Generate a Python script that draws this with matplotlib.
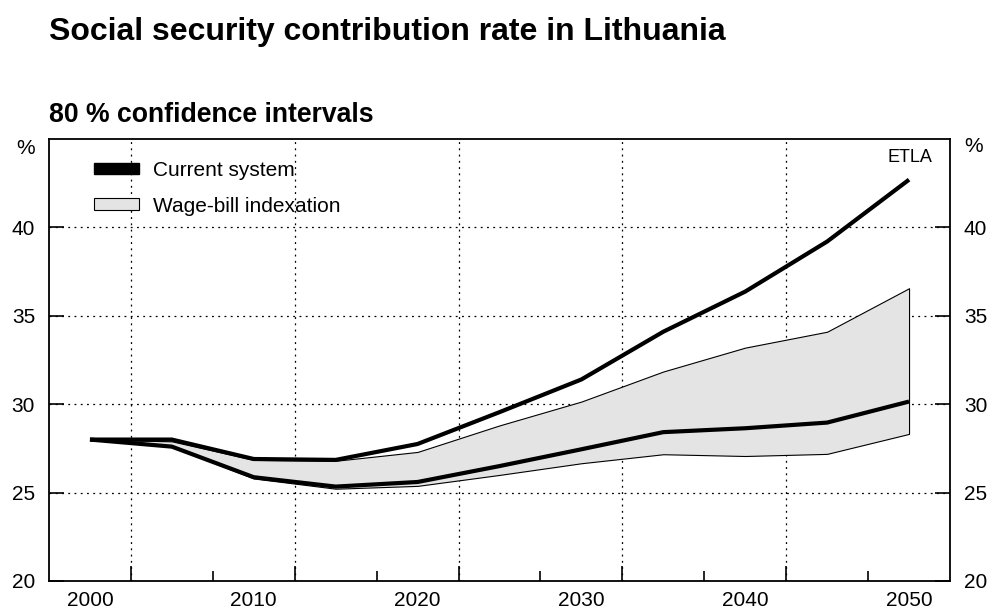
import matplotlib
matplotlib.use("Agg")
import matplotlib.pyplot as plt
from matplotlib.patches import Patch
import numpy as np

plt.rcParams['font.family'] = ['Liberation Sans', 'DejaVu Sans']

# contribution rate, %, every five years
years = [2000, 2005, 2010, 2015, 2020, 2025, 2030, 2035, 2040, 2045, 2050]
current_system = [28.0, 28.0, 26.9, 26.85, 27.75, 29.55, 31.4, 34.1, 36.37, 39.2, 42.7]
wage_bill_median = [28.0, 27.6, 25.87, 25.34, 25.6, 26.5, 27.45, 28.42, 28.64, 28.96, 30.15]
wage_bill_upper = [28.0, 27.9, 26.85, 26.8, 27.3, 28.8, 30.15, 31.85, 33.2, 34.1, 36.56]
wage_bill_lower = [28.0, 27.6, 25.8, 25.22, 25.38, 26.0, 26.66, 27.17, 27.07, 27.19, 28.32]

year_labels = [2000, 2010, 2020, 2030, 2040, 2050]
y_ticks = [20, 25, 30, 35, 40]

W, H = 991, 610
fig = plt.figure(figsize=(W / 100, H / 100), dpi=100)
ax = fig.add_axes([49 / W, 1 - 581 / H, (950 - 49) / W, (581 - 139) / H])

ax.fill_between(years, wage_bill_lower, wage_bill_upper, facecolor='#e4e4e4',
                edgecolor='black', linewidth=0.8, zorder=2)
ax.plot(years, current_system, color='black', lw=3, solid_capstyle='butt', zorder=3)
ax.plot(years, wage_bill_median, color='black', lw=3, solid_capstyle='butt', zorder=3)

ax.set_xlim(1997.5, 2052.5)
ax.set_ylim(20, 45)

# gridlines sit between the year labels
ax.set_xticks(np.arange(2002.5, 2050, 10))
ax.set_xticks(np.arange(2007.5, 2050, 10), minor=True)
ax.set_xticklabels([])
ax.tick_params(axis='x', which='major', direction='in', length=11, width=1.2)
ax.tick_params(axis='x', which='minor', direction='in', length=7, width=1.2)

ax.set_yticks(y_ticks)
ax.tick_params(axis='y', which='major', direction='in', length=11, width=1.2,
               left=True, right=True, labelleft=True, labelright=True,
               labelsize=15, pad=10)

sec = ax.secondary_xaxis('bottom')
sec.set_xticks(year_labels)
sec.tick_params(length=0, labelsize=15, pad=7)
sec.spines['bottom'].set_visible(False)

ax.grid(True, which='major', color='black', linestyle=(0, (1.5, 3.5)), linewidth=0.9)
for s in ax.spines.values():
    s.set_linewidth(1.3)

fig.text(35 / W, 1 - 148 / H, '%', ha='right', va='center', fontsize=15)
fig.text(964 / W, 1 - 147 / H, '%', ha='left', va='center', fontsize=15)
fig.text(932 / W, 1 - 162.5 / H, 'ETLA', ha='right', va='baseline', fontsize=13)

handles = [Patch(facecolor='black', edgecolor='black'),
           Patch(facecolor='#e4e4e4', edgecolor='black', linewidth=0.8)]
ax.legend(handles, ['Current system', 'Wage-bill indexation'], loc='upper left',
          bbox_to_anchor=(0.029, 0.993), frameon=False, fontsize=15,
          handlelength=2.15, handleheight=0.5, handletextpad=0.7,
          labelspacing=0.8)

fig.text(49 / W, 1 - 40 / H, 'Social security contribution rate in Lithuania',
         ha='left', va='baseline', fontsize=23, fontweight='bold')
fig.text(49 / W, 1 - 122 / H, '80 % confidence intervals',
         ha='left', va='baseline', fontsize=19.2, fontweight='bold')

fig.savefig('out.png', dpi=100)
